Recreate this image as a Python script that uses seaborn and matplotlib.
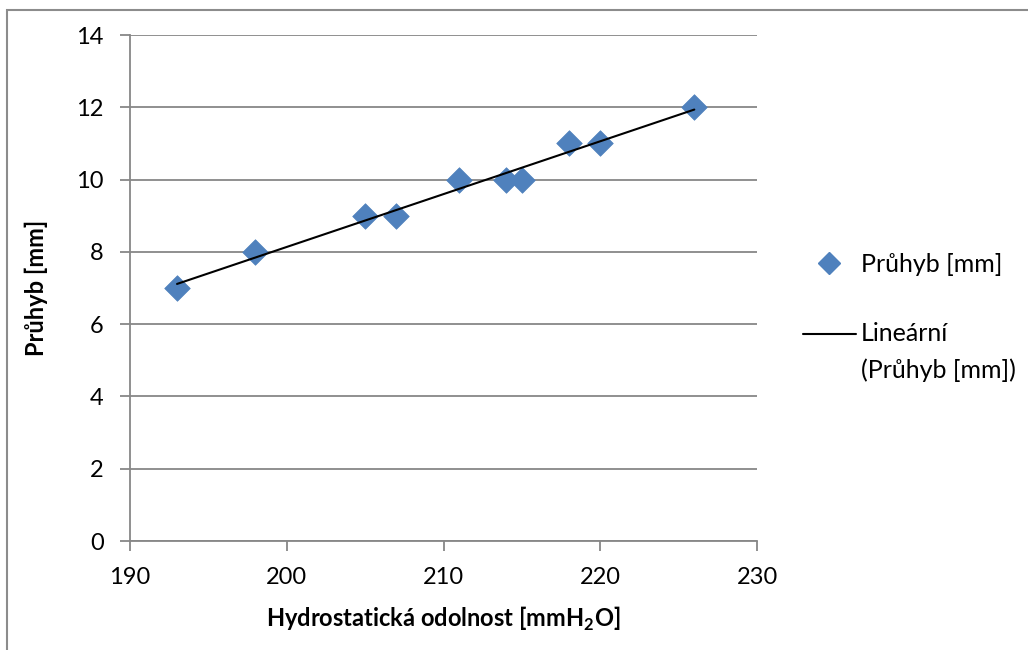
import matplotlib
matplotlib.use("Agg")
import matplotlib.pyplot as plt
import seaborn as sns
import numpy as np
import pandas as pd
from matplotlib.lines import Line2D
from matplotlib.patches import Rectangle
from matplotlib.legend_handler import HandlerLine2D

pressure = [193, 198, 205, 207, 211, 214, 215, 218, 220, 226]
deflection = [7, 8, 9, 9, 10, 10, 10, 11, 11, 12]
x_ticks = [190, 200, 210, 220, 230]
y_ticks = [0, 2, 4, 6, 8, 10, 12, 14]
series_label = "Průhyb [mm]"
trend_label = "Lineární\n(Průhyb [mm])"
x_label = r"Hydrostatická odolnost [mmH$_\mathbf{2}$O]"
y_label = "Průhyb [mm]"

df = pd.DataFrame({"x": pressure, "y": deflection})

sns.set_theme(style="white")
plt.rcParams["font.family"] = ["Lato", "DejaVu Sans"]
plt.rcParams["mathtext.fontset"] = "custom"
plt.rcParams["mathtext.rm"] = "Lato"
plt.rcParams["mathtext.bf"] = "Lato:bold"
plt.rcParams["text.color"] = "black"
plt.rcParams["axes.labelcolor"] = "black"


class TopLineHandler(HandlerLine2D):
    """Place the legend line beside the first line of a two-line label."""
    def __init__(self, shift, **kw):
        super().__init__(**kw)
        self.shift = shift

    def create_artists(self, legend, orig_handle, xdescent, ydescent, width,
                       height, fontsize, trans):
        artists = super().create_artists(legend, orig_handle, xdescent, ydescent,
                                          width, height, fontsize, trans)
        for a in artists:
            a.set_ydata(np.asarray(a.get_ydata()) + self.shift)
        return artists


fs = 17
fig = plt.figure(figsize=(10.28, 6.5), dpi=100)
ax = fig.add_axes([130/1028, 1-541/650, (757-130)/1028, (541-35)/650])

fig.patches.append(Rectangle((7/1028, -0.1), 1.2, 1 - 10/650 + 0.1, transform=fig.transFigure,
                             fill=False, edgecolor="#8c8c8c", linewidth=1.5, zorder=0))

grid_c = "#878787"
ax.set_xlim(190, 230)
ax.set_ylim(0, 14)
ax.set_xticks(x_ticks)
ax.set_yticks(y_ticks)
ax.grid(axis="y", color=grid_c, linewidth=1.3)
ax.grid(axis="x", visible=False)
ax.set_axisbelow(True)
for s in ["top", "right"]:
    ax.spines[s].set_visible(False)
for s in ["left", "bottom"]:
    ax.spines[s].set_color(grid_c)
    ax.spines[s].set_linewidth(1.3)
ax.tick_params(axis="both", direction="out", length=7, width=1.3, color=grid_c,
               labelsize=fs, labelcolor="black", bottom=True, left=True)
ax.tick_params(axis="y", pad=12)
ax.tick_params(axis="x", pad=12)

sns.scatterplot(data=df, x="x", y="y", marker="D", s=170, color="#4F81BD",
                edgecolor="#4F81BD", linewidth=0.5, ax=ax, zorder=3)
sns.regplot(data=df, x="x", y="y", scatter=False, ci=None, truncate=True, ax=ax,
            line_kws=dict(color="black", linewidth=1.5, zorder=4))

ax.set_xlabel(x_label, fontsize=fs, fontweight="bold", labelpad=12)
ax.set_ylabel(y_label, fontsize=fs, fontweight="bold", labelpad=20)

marker_h = Line2D([], [], marker="D", linestyle="none", color="#4F81BD", markersize=11)
line_h = Line2D([], [], color="black", linewidth=1.5)
leg = ax.legend([marker_h, line_h], [series_label, trend_label], loc="center left",
                bbox_to_anchor=(1.0734, 0.442), frameon=False, fontsize=18,
                borderpad=0, borderaxespad=0, labelcolor="black",
                handlelength=2.1, labelspacing=1.84, handletextpad=0.2,
                handler_map={line_h: TopLineHandler(shift=13.3)})
leg.get_texts()[1].set_linespacing(1.7)

fig.savefig("out.png", dpi=100)
